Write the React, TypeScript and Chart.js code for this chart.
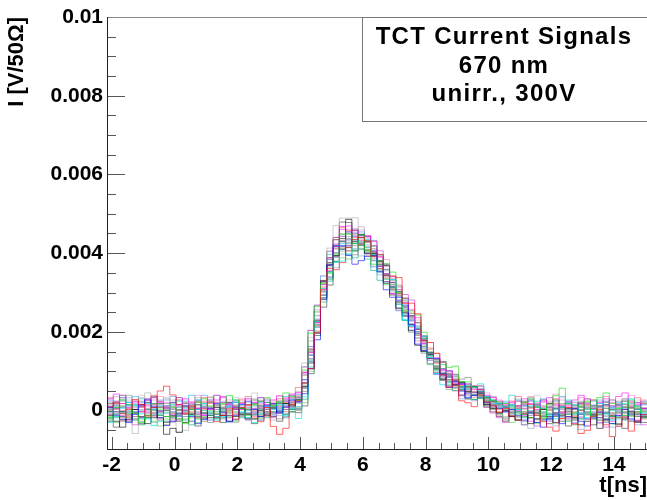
import React, { useEffect, useRef } from "react";
import { Chart, registerables } from "chart.js";

Chart.register(...registerables);

// ---- axis / binning ----
const BIN_START = -2.15; // ns, left edge of first bin
const BIN_WIDTH = 0.2; // ns
const X_MIN = -2.15;
const X_MAX = 15.05;
const Y_MIN = -0.001;
const Y_MAX = 0.01;
const xTickValues = [-2, 0, 2, 4, 6, 8, 10, 12, 14];
const xTickLabels = ["-2", "0", "2", "4", "6", "8", "10", "12", "14"];
const yTickValues = [0, 0.002, 0.004, 0.006, 0.008, 0.01];
const yTickLabels = ["0", "0.002", "0.004", "0.006", "0.008", "0.01"];
const VALUE_UNIT = 1e-5; // trace values below are in units of 10 uV/50 Ohm

const titleLines = ["TCT Current Signals", "670 nm", "unirr., 300V"];
const xTitle = "t[ns]";
const yTitle = "I [V/50\u03A9]";

// ---- traces (86 bins each, 0.2 ns wide, starting at -2.15 ns) ----
const trace01 = [
  10, 20, -8, 4, 28, 16, -14, 8, 50, 62,
  40, 16, -8, 12, -18, 4, 22, -28, -12, 6,
  -22, 8, 14, -16, -28, 8, -40, -60, -45, 16,
  25, 70, 107, 199, 308, 361, 358, 376, 415, 435,
  440, 431, 392, 397, 344, 342, 338, 272, 273, 246,
  178, 173, 146, 92, 60, 80, 25, 20, 10, 40,
  22, 12, -4, 6, -14, -24, -8, 16, -12, -28,
  -42, -52, -20, 8, -34, -58, -50, -14, 4, -36,
  -66, -40, -16, -52, -26, -10,
];
const trace02 = [
  -18, 8, 27, 15, -6, -30, -12, 18, 4, -15,
  9, -21, -33, 3, 21, 30, 12, -9, 18, 38,
  27, 6, -12, 15, 24, 33, 12, 21, 45, 36,
  27, 103, 197, 265, 324, 352, 398, 448, 449, 425,
  447, 407, 372, 381, 373, 352, 300, 253, 253, 243,
  199, 148, 106, 117, 110, 113, 74, 73, 60, 50,
  32, 26, 22, 18, 12, -9, 21, 30, 9, -18,
  15, 38, 57, 18, -6, 12, 24, -15, 33, 45,
  18, 6, -12, 27, 9, -3,
];
const trace03 = [
  8, -12, -22, -30, -9, 15, 27, 9, -18, -38,
  -27, -8, 12, -15, -33, -22, 6, 18, -4, -27,
  -12, 15, 24, 3, -15, 12, 18, -6, 9, 27,
  23, 43, 106, 180, 283, 370, 419, 419, 394, 372,
  381, 392, 394, 353, 307, 288, 288, 268, 218, 169,
  153, 147, 132, 95, 59, 74, 68, 34, 39, 49,
  21, 12, 6, -3, 3, -12, -24, -6, -30, -42,
  -21, -9, -33, -15, 6, -27, -39, -18, -4, -22,
  -33, -12, 3, -21, -27, -9,
];
const trace04 = [
  30, 42, 18, 8, 22, -3, 12, 33, 21, 6,
  -9, 15, 30, 22, 6, -12, 3, 27, 36, 15,
  8, 18, 30, 21, 33, 15, 27, 38, 30, 42,
  45, 97, 148, 223, 320, 355, 417, 468, 469, 458,
  441, 445, 430, 390, 348, 298, 279, 275, 256, 207,
  170, 148, 134, 105, 101, 70, 67, 68, 54, 54,
  39, 33, 24, 15, 21, 12, 30, 18, 3, 22,
  33, 15, -6, 12, 27, 39, 18, 6, 21, 30,
  12, 36, 45, 24, 15, 6,
];
const trace05 = [
  -30, -15, 6, 21, 12, -8, -21, -38, -27, -6,
  15, 24, 6, -12, 3, 18, -6, -24, -15, 9,
  21, -3, -18, -30, -9, 12, 3, 15, -12, 6,
  -20, 35, 126, 226, 310, 352, 377, 380, 398, 424,
  439, 434, 396, 352, 348, 333, 279, 231, 215, 209,
  189, 135, 94, 66, 71, 80, 57, 65, 60, 68,
  36, 27, 18, 9, 15, 3, -9, 12, 24, 6,
  -12, -21, 9, 27, 15, -6, -18, 3, 18, -9,
  -24, 6, 18, 30, 12, -6,
];
const trace06 = [
  -12, -27, -42, -22, 3, -15, -33, -18, 9, -60,
  -45, -55, -30, -9, 15, -6, -18, 8, -12, -27,
  -15, 6, -9, -21, 0, -12, 9, -3, 18, 12,
  28, 60, 121, 228, 330, 370, 394, 437, 486, 425,
  448, 400, 400, 378, 368, 309, 259, 248, 203, 166,
  150, 143, 106, 80, 85, 65, 72, 48, 61, 45,
  15, 6, -6, 0, -15, -24, -9, -33, -21, 3,
  -15, -30, -12, 6, -18, -36, -27, -9, -45, -24,
  -12, -36, -21, -3, -30, -15,
];
const trace07 = [
  3, 15, -6, -18, 9, 24, 6, -12, 0, 18,
  6, -9, 21, 12, -3, -18, -9, 15, 6, -6,
  12, -15, 3, 18, 6, -9, 15, 24, 3, 21,
  26, 90, 131, 198, 324, 404, 417, 410, 436, 461,
  445, 408, 432, 393, 346, 293, 277, 285, 241, 195,
  190, 120, 122, 125, 91, 58, 80, 84, 42, 62,
  33, 24, 15, 12, 6, 3, -6, 9, -3, 12,
  3, -12, 6, 15, -3, 9, -9, 6, 0, 12,
  -6, 3, 15, -9, 6, 0,
];
const trace08 = [
  21, 36, 12, -3, -58, 33, 45, 27, 9, 30,
  -30, -55, -50, 12, 33, 18, -6, 9, 24, 3,
  -9, 12, 21, 30, 15, -6, 3, 24, 12, 30,
  49, 121, 177, 242, 305, 413, 470, 489, 489, 490,
  430, 410, 385, 380, 373, 330, 274, 261, 248, 199,
  153, 144, 131, 124, 93, 60, 57, 68, 48, 56,
  27, 21, 12, 3, -6, -15, 3, -12, -24, -3,
  12, -9, -21, -6, 9, -15, -3, 15, -12, -27,
  -9, 9, -15, -6, 12, -3,
];
const trace09 = [
  -6, 9, 24, 33, 18, 3, -12, 6, 27, 12,
  -3, 9, -15, -27, -9, 6, 21, 3, -18, -30,
  -21, -6, 9, -9, -24, -3, 12, 3, -15, 9,
  6, 57, 142, 233, 303, 353, 363, 398, 425, 412,
  393, 401, 365, 345, 347, 332, 319, 283, 232, 185,
  159, 144, 133, 95, 62, 71, 74, 53, 25, 37,
  30, 18, 9, 6, -3, -18, -36, -45, -21, -6,
  -24, -39, -15, -6, -30, -48, -21, -9, -33, -15,
  -42, -21, -6, -27, -36, -12,
];
const trace10 = [
  15, -3, -18, 6, 24, 9, -6, 15, 36, 21,
  3, 12, -6, 21, 39, 24, 9, -9, 6, 27,
  15, 30, 6, -6, 18, 30, 21, 9, 33, 24,
  32, 72, 127, 231, 331, 369, 391, 432, 461, 448,
  434, 427, 387, 391, 384, 341, 294, 251, 236, 230,
  188, 173, 121, 87, 93, 93, 70, 48, 64, 47,
  45, 33, 27, 18, 24, 9, 18, 36, 21, 9,
  24, 42, 27, 9, 21, 33, 15, 3, 18, 36,
  21, 9, 30, 39, 18, 27,
];
const trace11 = [
  -21, -9, 9, -6, -24, -36, -18, 0, -12, -27,
  -18, 3, 12, -9, -21, -6, 9, -3, -18, 0,
  9, -6, -21, -9, 3, 15, -3, 6, 18, 3,
  5, 61, 151, 219, 286, 334, 390, 430, 426, 408,
  420, 431, 418, 371, 334, 320, 303, 263, 220, 208,
  184, 140, 101, 95, 93, 91, 61, 60, 62, 39,
  24, 15, 6, 0, -6, -3, -15, -6, 9, -12,
  -21, -6, 9, -9, -18, 3, -6, -21, -9, 6,
  -15, -3, 9, -12, -3, -18,
];
const trace12 = [
  9, 24, 39, 21, 3, 12, 30, 18, -3, 9,
  21, 33, 18, 3, -9, 9, 27, 39, 21, 9,
  21, 3, -9, 6, 24, 9, -6, 12, 24, 39,
  34, 111, 204, 268, 328, 389, 440, 443, 420, 430,
  446, 442, 405, 366, 328, 316, 302, 286, 242, 200,
  181, 133, 96, 91, 93, 66, 39, 45, 47, 54,
  36, 24, 18, 9, 15, 24, 6, -3, 15, 27,
  9, -6, 12, 24, 6, 18, 30, 12, -3, 15,
  27, 12, -6, 9, 21, 6,
];
const trace13 = [
  -3, -18, -6, 12, -9, -21, 3, 15, -6, -15,
  3, -12, -24, -36, -15, 0, -12, -21, 3, 15,
  -3, -18, 0, 12, -6, -18, -3, 9, -9, 3,
  10, 29, 111, 212, 276, 329, 378, 410, 397, 388,
  410, 385, 356, 331, 326, 313, 271, 229, 230, 212,
  162, 117, 113, 107, 75, 51, 54, 56, 28, 32,
  27, 18, 12, 3, 9, -6, -18, -3, -12, -24,
  -9, 6, -15, -27, -9, -21, 3, -12, -24, -6,
  6, -15, -24, -9, 3, -12,
];
const trace14 = [
  18, 6, -15, -27, -6, 9, 21, 36, 18, 0,
  -15, -27, -6, 9, 24, 6, -12, -18, 9, 21,
  6, -9, 15, 27, 12, 21, 6, 18, 27, 15,
  37, 71, 125, 196, 304, 376, 434, 479, 478, 457,
  446, 408, 399, 380, 371, 325, 275, 241, 240, 224,
  177, 132, 130, 122, 91, 86, 59, 61, 62, 42,
  33, 24, 18, 9, 3, 12, 24, 9, -6, 6,
  18, 27, 9, -3, 12, 21, 6, -12, 9, 21,
  3, 15, 24, 6, -9, 6,
];
const trace15 = [
  -9, 6, 18, 3, -15, -3, 15, -6, -21, -6,
  12, 27, 9, -6, 6, 21, 33, 12, -6, -18,
  -6, 21, 36, 15, -3, -15, 6, 18, 3, 24,
  4, 63, 148, 216, 282, 354, 412, 411, 406, 419,
  439, 442, 402, 361, 347, 334, 314, 265, 219, 177,
  157, 156, 145, 106, 72, 50, 57, 59, 34, 47,
  30, 21, 15, 6, -3, 6, 15, -6, -21, -9,
  6, 18, -3, -15, 3, 15, -9, -21, 3, 12,
  -6, -18, 3, 15, -3, -21,
];
const trace16 = [
  27, 12, -3, 15, 36, 21, 3, -9, 12, 27,
  36, 15, -3, 9, 27, 39, 21, 3, -9, 12,
  24, 9, -6, 3, 21, 6, -12, 0, 15, 30,
  41, 78, 140, 241, 342, 384, 401, 409, 434, 451,
  454, 421, 381, 369, 359, 341, 291, 245, 205, 196,
  178, 133, 94, 85, 87, 60, 30, 32, 39, 46,
  33, 24, 15, 21, 12, 3, 15, 27, 12, -3,
  9, 24, 36, 18, 3, -9, 12, 24, 9, -6,
  9, 21, 6, -9, 3, 15,
];
const trace17 = [
  -24, -9, 12, 27, 15, -3, -18, -30, -12, 6,
  18, 3, -15, -27, -12, 9, 24, 15, -3, -18,
  -30, -12, 6, 21, 9, -9, -24, -12, 3, 18,
  1, 62, 157, 256, 330, 372, 395, 405, 431, 451,
  459, 432, 390, 352, 341, 332, 317, 280, 236, 191,
  145, 133, 127, 124, 96, 66, 37, 39, 46, 53,
  18, 3, -12, -24, -9, 6, 18, 27, 12, -6,
  -21, -33, -18, 0, 15, 24, 9, -9, -24, -12,
  3, 18, 27, 12, -6, -18,
];
const trace18 = [
  33, 18, 0, -15, -6, 12, 27, 39, 24, 9,
  -6, -21, -9, 6, 21, 33, 18, 3, -12, -3,
  12, 27, 15, 0, -12, 3, 18, 30, 21, 33,
  59, 98, 156, 225, 314, 386, 435, 465, 458, 441,
  422, 393, 381, 370, 359, 341, 296, 253, 212, 191,
  174, 159, 121, 88, 60, 63, 64, 66, 49, 53,
  27, 15, 3, 12, 24, 36, 21, 6, -9, 3,
  18, 30, 15, -3, -15, 0, 15, 27, 12, -6,
  -18, -6, 9, 21, 33, 18,
];
const trace19 = [
  -15, -30, -18, -3, 12, 0, -12, -27, -39, -21,
  -6, 9, -3, -18, -30, -15, 0, 12, -3, -15,
  -27, -12, 3, -9, -21, -6, 9, -3, -15, -3,
  1, 20, 100, 197, 294, 348, 380, 388, 385, 405,
  422, 427, 395, 358, 320, 307, 292, 276, 233, 193,
  149, 134, 125, 95, 67, 70, 71, 49, 29, 31,
  12, 6, -6, -18, -30, -15, -3, -18, -33, -21,
  -6, 6, -9, -24, -36, -21, -6, 9, -6, -21,
  -33, -18, -3, -15, -27, -12,
];
const trace20 = [
  6, 21, 33, 15, -3, -18, -6, 9, 24, 12,
  -3, -15, 0, 15, 3, -12, -24, -9, 6, 21,
  9, -6, -18, -3, 12, 27, 15, 0, 12, 6,
  20, 79, 163, 227, 293, 340, 392, 431, 454, 444,
  425, 399, 392, 381, 343, 298, 254, 241, 228, 215,
  171, 128, 92, 89, 88, 91, 67, 42, 46, 32,
  15, 27, 12, -3, -15, -3, 12, 24, 9, -6,
  -18, -6, 9, 21, 6, -9, -21, -6, 12, 24,
  9, -6, -18, -3, 12, 24,
];
const trace21 = [
  -9, 3, -12, -24, -36, -18, -3, 12, 0, -15,
  -27, -12, 3, 18, 6, -9, 6, 21, 33, 18,
  3, -12, -24, -9, 6, -6, -18, -6, 9, 21,
  29, 93, 154, 224, 294, 370, 423, 460, 454, 441,
  431, 428, 419, 406, 368, 325, 308, 295, 281, 236,
  189, 144, 106, 101, 100, 76, 50, 52, 59, 63,
  9, -6, -18, -30, -15, 0, -12, -27, -39, -24,
  -9, 6, -6, -21, -33, -18, -3, -15, -30, -42,
  -27, -12, 3, -9, -24, -36,
];
const trace22 = [
  12, -3, -15, 0, 15, 30, 18, 3, -9, 6,
  21, 9, 24, 39, 27, 12, -3, -15, -3, 12,
  27, 15, 3, 18, 33, 21, 6, 21, 36, 27,
  31, 70, 132, 231, 326, 397, 419, 424, 418, 431,
  440, 414, 407, 396, 358, 315, 270, 230, 214, 201,
  184, 142, 106, 103, 102, 78, 49, 54, 61, 44,
  36, 21, 9, 24, 39, 27, 12, 0, 15, 30,
  18, 3, -9, 6, 21, 9, -3, 12, 27, 15,
  0, 15, 30, 18, 3, 18,
];
const trace23 = [
  -27, -42, -24, -9, -21, -33, -18, -6, -18, -30,
  -12, 0, -15, -27, -39, -21, -6, -18, -30, -12,
  3, -9, -21, -33, -15, -3, -15, -27, -9, -3,
  -5, 12, 94, 191, 263, 319, 378, 416, 414, 406,
  426, 430, 397, 361, 323, 313, 298, 258, 218, 206,
  189, 145, 109, 77, 79, 77, 53, 31, 39, 35,
  9, -3, -15, -27, -12, -24, -36, -18, -6, -21,
  -33, -15, -27, -39, -24, -9, -21, -36, -18, -6,
  -21, -33, -45, -27, -15, -30,
];
const trace24 = [
  3, 18, 30, 12, 27, 39, 21, 6, 18, 33,
  15, 27, 12, -3, 12, 24, 36, 21, 6, 21,
  33, 18, 30, 45, 27, 12, 24, 36, 21, 33,
  23, 96, 186, 250, 343, 407, 423, 428, 448, 461,
  439, 435, 398, 355, 342, 326, 306, 263, 220, 207,
  187, 142, 128, 125, 91, 64, 62, 64, 41, 45,
  24, 36, 21, 6, 18, 30, 15, 27, 39, 24,
  9, 21, 33, 18, 3, 15, 27, 12, 24, 36,
  21, 9, 24, 12, 27, 15,
];
const trace25 = [
  -18, -6, 9, -3, -15, -27, -12, 3, 15, 0,
  -12, -24, -9, 6, -6, -18, -30, -15, 0, -12,
  -24, -9, 3, -12, -24, -9, 6, -6, -18, -3,
  2, 56, 143, 215, 287, 337, 392, 429, 449, 434,
  420, 398, 393, 382, 346, 304, 262, 249, 236, 196,
  152, 137, 125, 92, 64, 67, 70, 48, 28, 33,
  18, 6, -6, 9, -3, -15, -27, -12, 0, -15,
  -27, -12, 3, -9, -21, -6, 9, -3, -18, -30,
  -15, 0, -12, -24, -9, 3,
];
const trace26 = [
  24, 9, -6, -18, -3, 12, 0, -15, -3, 12,
  27, 12, 0, -12, 3, 15, 3, -9, 6, 18,
  6, -9, -21, -6, 9, -3, -15, 3, 18, 9,
  46, 79, 140, 212, 311, 384, 410, 417, 437, 450,
  467, 438, 404, 366, 355, 337, 293, 253, 240, 222,
  178, 133, 95, 92, 91, 67, 41, 49, 56, 37,
  21, 9, -3, -15, 0, 12, -3, -18, -6, 9,
  21, 6, -9, 3, 15, 0, -12, 3, 18, 6,
  -9, 3, 15, 0, -12, -3,
];
const trace27 = [
  -3, 12, 27, 39, 24, 9, 21, 33, 18, 3,
  9, -6, -21, -9, 6, 18, 6, -9, -21, -6,
  9, 21, 9, -6, -18, -3, 12, 24, 9, 15,
  7, 68, 157, 251, 320, 365, 415, 449, 442, 429,
  431, 404, 367, 355, 344, 326, 282, 239, 199, 184,
  167, 149, 115, 82, 54, 57, 60, 62, 39, 37,
  24, 36, 21, 9, -6, 6, 21, 33, 18, 3,
  -9, 6, 18, 3, -12, 0, 15, 27, 12, -3,
  12, 24, 9, -6, 6, 21,
];
const trace28 = [
  0, -15, -27, -12, 3, 15, 3, -12, -24, -36,
  -21, -6, 9, -3, -15, -27, -12, 3, 15, 3,
  -9, 6, -6, -21, -9, 3, -9, -21, -3, 9,
  20, 49, 107, 202, 301, 375, 401, 410, 406, 396,
  411, 416, 411, 373, 337, 295, 278, 263, 247, 207,
  163, 148, 112, 79, 75, 75, 51, 29, 39, 43,
  15, 3, -9, -21, -6, 9, -3, -18, -30, -15,
  0, 12, -3, -18, -6, 9, 21, 6, -9, -21,
  -33, -18, -3, 9, -6, -18,
];

const traces = [
  trace01, trace02, trace03, trace04, trace05, trace06, trace07, trace08,
  trace09, trace10, trace11, trace12, trace13, trace14, trace15, trace16,
  trace17, trace18, trace19, trace20, trace21, trace22, trace23, trace24,
  trace25, trace26, trace27, trace28,
];
const traceColors = [
  "rgba(255,0,0,0.6)",
  "rgba(0,220,0,0.6)",
  "rgba(0,0,255,0.6)",
  "rgba(255,0,255,0.6)",
  "rgba(0,235,235,0.7)",
  "rgba(0,0,0,0.6)",
  "rgba(120,120,120,0.6)",
  "rgba(175,175,175,0.65)",
  "rgba(150,170,220,0.7)",
  "rgba(255,120,200,0.6)",
  "rgba(0,140,60,0.6)",
  "rgba(120,0,160,0.6)",
  "rgba(0,170,140,0.6)",
  "rgba(70,70,70,0.6)",
  "rgba(200,110,110,0.6)",
  "rgba(80,150,255,0.6)",
  "rgba(160,160,160,0.6)",
  "rgba(255,60,60,0.55)",
  "rgba(60,200,60,0.55)",
  "rgba(60,60,220,0.55)",
  "rgba(220,0,220,0.5)",
  "rgba(0,200,200,0.6)",
  "rgba(40,40,40,0.55)",
  "rgba(200,200,200,0.7)",
  "rgba(100,120,170,0.6)",
  "rgba(190,140,190,0.6)",
  "rgba(110,160,110,0.6)",
  "rgba(140,100,80,0.6)",
];

const FONT = "'Liberation Sans', Arial, Helvetica, sans-serif";

const binEdges = Array.from({ length: traces[0].length + 1 }, (_, i) =>
  +(BIN_START + i * BIN_WIDTH).toFixed(3)
);

function toPoints(vals: number[]) {
  const pts = vals.map((v, i) => ({ x: binEdges[i], y: v * VALUE_UNIT }));
  pts.push({ x: binEdges[vals.length], y: vals[vals.length - 1] * VALUE_UNIT });
  return pts;
}

const rootFrame = {
  id: "rootFrame",
  beforeDatasetsDraw(chart: any) {
    const { ctx, chartArea: a, scales } = chart;
    const x = scales.x;
    const y = scales.y;
    ctx.save();
    ctx.strokeStyle = "#555";
    ctx.lineWidth = 1;
    ctx.beginPath();
    for (let k = 0; k <= 34; k++) {
      const v = -2 + k * 0.5;
      if (v > X_MAX) break;
      const px = Math.round(x.getPixelForValue(v)) + 0.5;
      const major = k % 4 === 0;
      const len = major ? 13 : 7;
      ctx.moveTo(px, a.bottom);
      ctx.lineTo(px, a.bottom - len);
    }
    for (let k = -1; k <= 20; k++) {
      const v = k * 0.0005;
      const py = Math.round(y.getPixelForValue(v)) + 0.5;
      const major = k % 4 === 0;
      const len = major ? 18 : 9;
      ctx.moveTo(a.left, py);
      ctx.lineTo(a.left + len, py);
    }
    ctx.stroke();
    ctx.restore();
  },
  afterDraw(chart: any) {
    const { ctx, chartArea: a } = chart;
    ctx.save();
    ctx.lineWidth = 1;
    ctx.strokeStyle = "#888";
    ctx.beginPath();
    ctx.moveTo(a.left, Math.round(a.top) + 0.5);
    ctx.lineTo(a.right, Math.round(a.top) + 0.5);
    ctx.stroke();
    ctx.strokeStyle = "#222";
    ctx.beginPath();
    ctx.moveTo(Math.round(a.left) + 0.5, a.top);
    ctx.lineTo(Math.round(a.left) + 0.5, a.bottom);
    ctx.moveTo(a.left, Math.round(a.bottom) - 0.5);
    ctx.lineTo(a.right, Math.round(a.bottom) - 0.5);
    ctx.stroke();

    const bx = 362.5;
    const by = Math.round(a.top) + 0.5;
    const bw = 300;
    const bh = 104;
    ctx.fillStyle = "#ffffff";
    ctx.fillRect(bx, by, bw, bh);
    ctx.strokeStyle = "#777";
    ctx.strokeRect(bx, by, bw, bh);
    ctx.fillStyle = "#000";
    ctx.font = `bold 24px ${FONT}`;
    ctx.textAlign = "center";
    ctx.textBaseline = "alphabetic";
    (ctx as any).letterSpacing = "1.3px";
    const cx = 504;
    const baselines = [44, 73, 101];
    titleLines.forEach((t, i) => ctx.fillText(t, cx, baselines[i]));
    ctx.restore();
  },
};

export default function App() {
  const ref = useRef<HTMLCanvasElement | null>(null);

  useEffect(() => {
    document.body.style.margin = "0";
    const canvas = ref.current;
    if (!canvas) return;
    const datasets = traces.map((vals, i) => ({
      label: `signal ${i + 1}`,
      data: toPoints(vals),
      borderColor: traceColors[i % traceColors.length],
      borderWidth: 1,
      pointRadius: 0,
      fill: false,
      stepped: true as const,
      tension: 0,
    }));
    const chart = new Chart(canvas, {
      type: "line",
      data: { datasets },
      plugins: [rootFrame],
      options: {
        animation: false,
        responsive: false,
        devicePixelRatio: 1,
        events: [],
        layout: { padding: { top: 17, right: 0, left: 0, bottom: 0 } },
        plugins: { legend: { display: false }, tooltip: { enabled: false }, title: { display: false } },
        scales: {
          x: {
            type: "linear",
            min: X_MIN,
            max: X_MAX,
            grid: { display: false, drawTicks: false },
            border: { display: false },
            afterBuildTicks: (s: any) => {
              s.ticks = xTickValues.map((v) => ({ value: v }));
            },
            afterFit: (s: any) => {
              s.height = 50;
            },
            ticks: {
              autoSkip: false,
              maxRotation: 0,
              minRotation: 0,
              padding: 3,
              color: "#000",
              font: { family: FONT, size: 21, weight: "bold" },
              callback: (_v: any, i: number) => xTickLabels[i],
            },
            title: {
              display: true,
              text: xTitle,
              align: "end",
              color: "#000",
              padding: { top: 0, bottom: 1 },
              font: { family: FONT, size: 22, weight: "bold" },
            },
          },
          y: {
            type: "linear",
            min: Y_MIN,
            max: Y_MAX,
            grid: { display: false, drawTicks: false },
            border: { display: false },
            afterBuildTicks: (s: any) => {
              s.ticks = yTickValues.map((v) => ({ value: v }));
            },
            afterFit: (s: any) => {
              s.width = 107;
            },
            ticks: {
              autoSkip: false,
              padding: 4,
              color: "#000",
              font: { family: FONT, size: 21, weight: "bold" },
              callback: (_v: any, i: number) => yTickLabels[i],
            },
            title: {
              display: true,
              text: yTitle,
              align: "end",
              color: "#000",
              padding: { top: 4, bottom: 0 },
              font: { family: FONT, size: 22, weight: "bold" },
            },
          },
        },
      },
    } as any);
    return () => chart.destroy();
  }, []);

  return (
    <div style={{ width: 647, height: 500 }}>
      <canvas ref={ref} width={647} height={500} style={{ display: "block" }} />
    </div>
  );
}
